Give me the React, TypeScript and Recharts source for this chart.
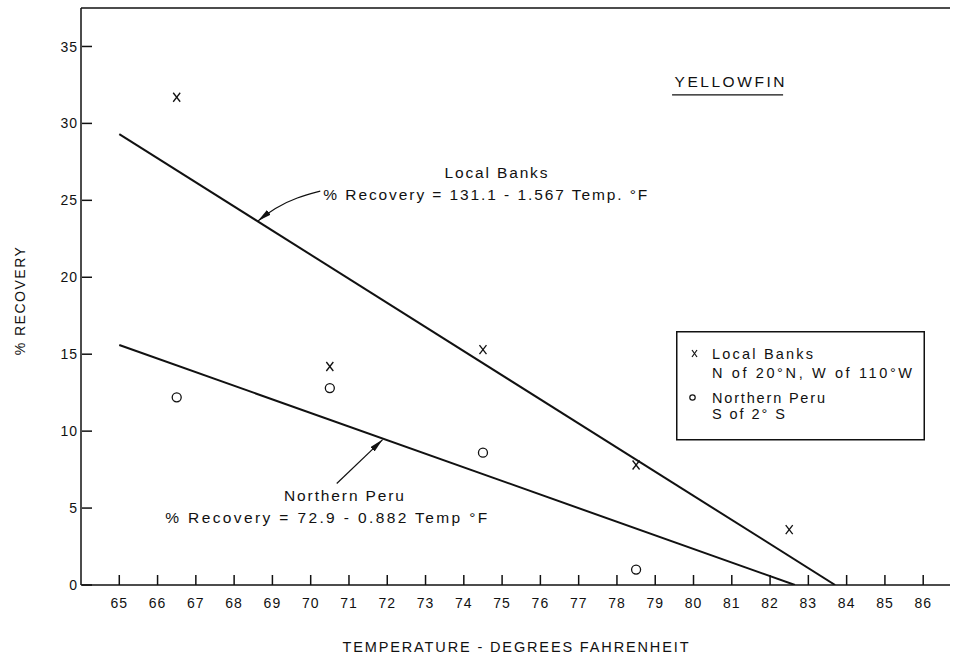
import React from "react";
import {
  ComposedChart,
  Line,
  Scatter,
  XAxis,
  YAxis,
  ReferenceLine,
  ReferenceDot,
} from "recharts";

// axis ticks
const tempTicks = [65, 66, 67, 68, 69, 70, 71, 72, 73, 74, 75, 76, 77, 78, 79, 80, 81, 82, 83, 84, 85, 86];
const recoveryTicks = [0, 5, 10, 15, 20, 25, 30, 35];

// observed points
const localBanksTemp = [66.5, 70.5, 74.5, 78.5, 82.5];
const localBanksRecovery = [31.7, 14.2, 15.3, 7.8, 3.6];
const peruTemp = [66.5, 70.5, 74.5, 78.5];
const peruRecovery = [12.2, 12.8, 8.6, 1.0];

// fitted lines (end points)
const localFitTemp = [65, 83.7];
const localFitRecovery = [29.3, 0];
const peruFitTemp = [65, 82.65];
const peruFitRecovery = [15.6, 0];

// arrows from the equations to the lines
const localLeaderTemp = [70.25, 69.65, 69.05, 68.62];
const localLeaderRecovery = [25.6, 25.2, 24.5, 23.65];
const peruLeaderTemp = [70.68, 71.88];
const peruLeaderRecovery = [6.6, 9.45];

const zip = (xs: number[], ys: number[]) => xs.map((x, i) => ({ x, y: ys[i] }));

const localPts = zip(localBanksTemp, localBanksRecovery);
const peruPts = zip(peruTemp, peruRecovery);
const localFit = zip(localFitTemp, localFitRecovery);
const peruFit = zip(peruFitTemp, peruFitRecovery);
const localLeader = zip(localLeaderTemp, localLeaderRecovery);
const peruLeader = zip(peruLeaderTemp, peruLeaderRecovery);

const FONT = "'Liberation Sans', Arial, sans-serif";
const INK = "#111";

// text notes placed in data coordinates
const notes = [
  { x: 74.84, y: 26.8, text: "Local Banks", anchor: "middle", len: 103 },
  { x: 70.33, y: 25.4, text: "% Recovery = 131.1 - 1.567  Temp. °F", anchor: "start", len: 324 },
  { x: 70.87, y: 5.81, text: "Northern Peru", anchor: "middle", len: 120 },
  { x: 66.2, y: 4.38, text: "% Recovery = 72.9 - 0.882  Temp °F", anchor: "start", len: 322 },
  { x: 80.94, y: 32.7, text: "YELLOWFIN", anchor: "middle", len: 110 },
];

const CrossDot = (p: any) => {
  const { cx, cy } = p;
  if (cx == null || cy == null) return <g />;
  return (
    <g stroke={INK} strokeWidth={1.3}>
      <line x1={cx - 3.5} y1={cy - 4.5} x2={cx + 3.5} y2={cy + 4.5} />
      <line x1={cx + 3.5} y1={cy - 4.5} x2={cx - 3.5} y2={cy + 4.5} />
    </g>
  );
};

const RingDot = (p: any) => {
  const { cx, cy } = p;
  if (cx == null || cy == null) return <g />;
  return <circle cx={cx} cy={cy} r={4.5} fill="none" stroke={INK} strokeWidth={1.3} />;
};

const XTick = (p: any) => {
  const { x, y, payload } = p;
  const axisY = y - 12;
  return (
    <g>
      <line x1={x} y1={axisY} x2={x} y2={axisY - 10} stroke={INK} strokeWidth={1.5} />
      <text x={x} y={y} dy="0.75em" textAnchor="middle" fontSize={14} fontFamily={FONT} letterSpacing={1} fill={INK}>
        {payload.value}
      </text>
    </g>
  );
};

const YTick = (p: any) => {
  const { x, y, payload } = p;
  const axisX = x + 4;
  return (
    <g>
      <line x1={axisX} y1={y} x2={axisX + 10} y2={y} stroke={INK} strokeWidth={1.5} />
      <text x={x} y={y} dy="0.36em" textAnchor="end" fontSize={14} fontFamily={FONT} letterSpacing={1} fill={INK}>
        {payload.value}
      </text>
    </g>
  );
};

const legendRows = [
  { text: "Local Banks", y: 22.5, len: 101 },
  { text: "N of 20°N, W of 110°W", y: 41.5, len: 200 },
  { text: "Northern Peru", y: 66.5, len: 113 },
  { text: "S of 2° S", y: 82.5, len: 73 },
];

export default function App() {
  return (
    <div style={{ position: "absolute", left: 0, top: 0, width: 954, height: 658, background: "#fff" }}>
      <ComposedChart width={954} height={658} margin={{ top: 8, right: 4, bottom: 0, left: 0 }}>
        <defs>
          <marker
            id="arrowHead"
            viewBox="0 0 14 6"
            refX="14"
            refY="3"
            markerWidth="14"
            markerHeight="6"
            markerUnits="userSpaceOnUse"
            orient="auto"
          >
            <path d="M0,0 L14,3 L0,6 z" fill={INK} />
          </marker>
        </defs>
        <XAxis
          dataKey="x"
          type="number"
          domain={[64, 86.7]}
          ticks={tempTicks}
          allowDataOverflow
          height={73}
          tickSize={0}
          tickMargin={12}
          tickLine={false}
          tick={<XTick />}
          interval={0}
          axisLine={{ stroke: INK, strokeWidth: 1.5 }}
          label={{
            content: (props: any) => {
              const vb = props.viewBox || { x: 81, width: 869 };
              const cx = vb.x + vb.width / 2;
              return (
                <text x={cx} y={652} textAnchor="middle" fontSize={14.5} fontFamily={FONT} textLength={346} lengthAdjust="spacing" fill={INK}>
                  TEMPERATURE - DEGREES FAHRENHEIT
                </text>
              );
            },
          }}
        />
        <YAxis
          dataKey="y"
          type="number"
          domain={[0, 37.5]}
          ticks={recoveryTicks}
          allowDataOverflow
          width={81}
          tickSize={0}
          tickMargin={3}
          tickLine={false}
          tick={<YTick />}
          interval={0}
          axisLine={{ stroke: INK, strokeWidth: 1.5 }}
          label={{
            content: (props: any) => {
              const vb = props.viewBox || { y: 8, height: 577 };
              const cy = vb.y + vb.height / 2 + 4;
              return (
                <text
                  x={25}
                  y={cy}
                  transform={`rotate(-90, 25, ${cy})`}
                  textAnchor="middle"
                  fontSize={14}
                  fontFamily={FONT}
                  letterSpacing={1.5}
                  fill={INK}
                >
                  % RECOVERY
                </text>
              );
            },
          }}
        />
        <ReferenceLine y={37.5} stroke={INK} strokeWidth={1.5} />

        <Line data={localFit} dataKey="y" type="linear" stroke={INK} strokeWidth={2} dot={false} isAnimationActive={false} />
        <Line data={peruFit} dataKey="y" type="linear" stroke={INK} strokeWidth={2} dot={false} isAnimationActive={false} />

        <Line
          data={localLeader}
          dataKey="y"
          type="basis"
          stroke={INK}
          strokeWidth={1.2}
          dot={false}
          markerEnd="url(#arrowHead)"
          isAnimationActive={false}
        />
        <Line
          data={peruLeader}
          dataKey="y"
          type="linear"
          stroke={INK}
          strokeWidth={1.2}
          dot={false}
          markerEnd="url(#arrowHead)"
          isAnimationActive={false}
        />

        <Scatter data={localPts} dataKey="y" shape={<CrossDot />} isAnimationActive={false} />
        <Scatter data={peruPts} dataKey="y" shape={<RingDot />} isAnimationActive={false} />

        {notes.map((n) => (
          <ReferenceDot
            key={n.text}
            x={n.x}
            y={n.y}
            r={0}
            ifOverflow="visible"
            shape={(p: any) => (
              <text
                x={p.cx}
                y={p.cy}
                dy="0.36em"
                textAnchor={n.anchor}
                fontSize={15.5}
                fontFamily={FONT}
                textLength={n.len}
                lengthAdjust="spacing"
                fill={INK}
              >
                {n.text}
              </text>
            )}
          />
        ))}
        <ReferenceLine
          segment={[
            { x: 79.44, y: 31.86 },
            { x: 82.34, y: 31.86 },
          ]}
          stroke={INK}
          strokeWidth={1.3}
        />
      </ComposedChart>

      <svg style={{ position: "absolute", left: 676, top: 331 }} width={249} height={110}>
        <rect x={0.75} y={0.75} width={247.5} height={108} fill="#fff" stroke={INK} strokeWidth={1.5} />
        <g stroke={INK} strokeWidth={1.2}>
          <line x1={16} y1={19} x2={21} y2={26} />
          <line x1={21} y1={19} x2={16} y2={26} />
        </g>
        <circle cx={16.5} cy={66.5} r={2.7} fill="none" stroke={INK} strokeWidth={1.2} />
        {legendRows.map((r) => (
          <text
            key={r.text}
            x={36}
            y={r.y}
            dy="0.36em"
            fontSize={14.5}
            fontFamily={FONT}
            textLength={r.len}
            lengthAdjust="spacing"
            fill={INK}
          >
            {r.text}
          </text>
        ))}
      </svg>
    </div>
  );
}
